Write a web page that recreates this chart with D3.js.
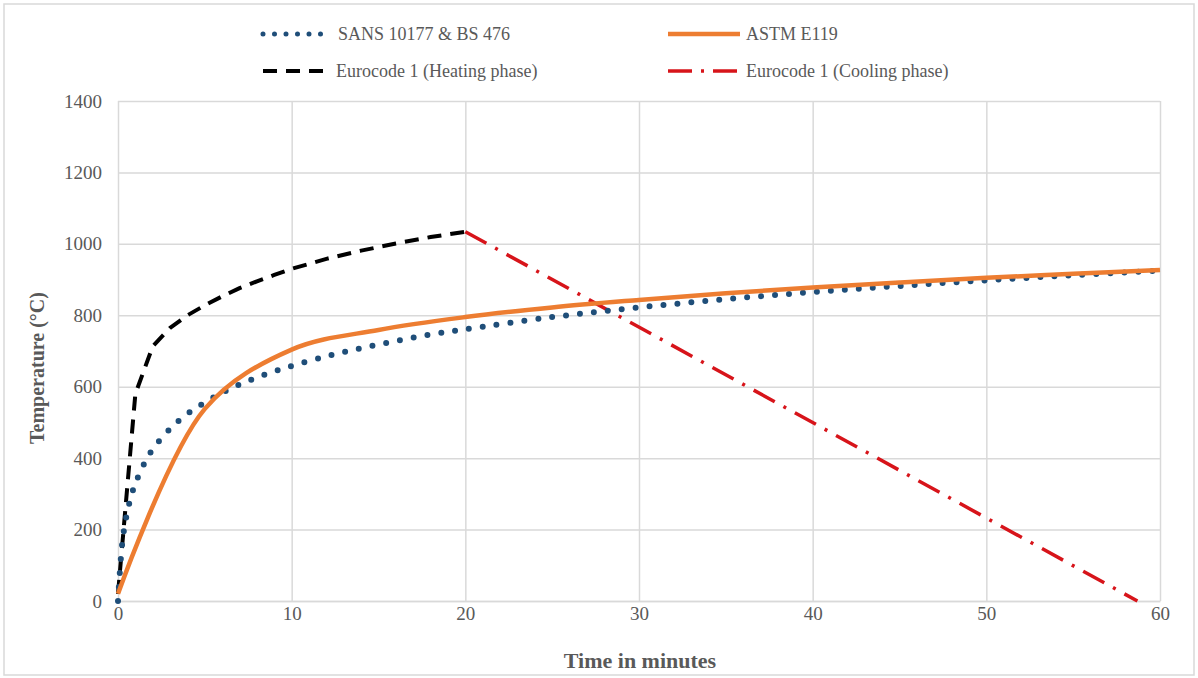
<!DOCTYPE html>
<html>
<head>
<meta charset="utf-8">
<script src="https://cdn.jsdelivr.net/npm/d3@7"></script>
<style>
  body { margin: 0; background: #fff; }
  svg text { font-family: 'Liberation Serif', 'DejaVu Serif', serif !important; fill: #595959; }
</style>
</head>
<body>
<div id="fireCurves"></div>
<script>
// Series (time in minutes, temperature in degC)
const sansTime = [0, 0.25, 0.5, 0.75, 1, 1.5, 2, 3, 4, 5, 6, 7, 8, 9, 10, 12, 14, 16, 18, 20, 25, 30, 35, 40, 45, 50, 55, 60];
const sansTemp = [0, 165, 241, 292, 329, 384, 425, 482, 524, 556, 583, 606, 626, 643, 658, 685, 708, 728, 746, 761, 795, 822, 845, 865, 882, 898, 912, 925];

const astmTime = [0, 5, 10, 15, 20, 25, 30, 35, 40, 45, 50, 55, 60];
const astmTemp = [20, 538, 704, 759, 795, 822, 843, 862, 878, 892, 905, 916, 927];

const heatTime = [0, 1, 2, 3, 4, 5, 6, 7, 8, 9, 10, 12, 14, 16, 18, 20];
const heatTemp = [20, 580, 713, 765, 800, 828, 853, 876, 895, 913, 930, 958, 981, 1001, 1019, 1034];

const coolTime = [20, 58.7];
const coolTemp = [1034, 0];

const xTicks = [0, 10, 20, 30, 40, 50, 60];
const yTicks = [0, 200, 400, 600, 800, 1000, 1200, 1400];

const seriesNames = ['SANS 10177 & BS 476', 'ASTM E119', 'Eurocode 1 (Heating phase)', 'Eurocode 1 (Cooling phase)'];

const W = 1198, H = 678;
const FONT = "'Liberation Serif', serif";
const margin = { top: 101, right: 38, bottom: 77, left: 118 },
  width = W - margin.left - margin.right,
  height = H - margin.top - margin.bottom;

const root = d3.select('#fireCurves').append('svg')
  .attr('width', W)
  .attr('height', H)
  .attr('font-family', FONT);

// outer frame
root.append('rect')
  .attr('x', 4).attr('y', 4)
  .attr('width', W - 8).attr('height', H - 7)
  .attr('fill', '#fff')
  .attr('stroke', '#d9d9d9')
  .attr('stroke-width', 1.5);

const svg = root.append('g')
  .attr('transform', 'translate(' + margin.left + ',' + margin.top + ')');

const x = d3.scaleLinear().domain([0, 60]).range([0, width]);
const y = d3.scaleLinear().domain([0, 1400]).range([height, 0]);

// gridlines
svg.append('g')
  .attr('class', 'grid')
  .call(d3.axisLeft(y).tickValues(yTicks).tickSize(-width).tickFormat(''))
  .call(g => g.select('.domain').remove());
svg.append('g')
  .attr('class', 'grid')
  .call(d3.axisBottom(x).tickValues(xTicks).tickSize(height).tickFormat(''))
  .call(g => g.select('.domain').remove());
svg.selectAll('.grid line').attr('stroke', '#d9d9d9').attr('stroke-width', 1.5);

// X axis labels
svg.append('g')
  .attr('transform', 'translate(0,' + height + ')')
  .call(d3.axisBottom(x).tickValues(xTicks).tickFormat(d3.format('d')).tickSize(0).tickPadding(6))
  .attr('font-family', FONT)
  .call(g => g.select('.domain').attr('stroke', '#d9d9d9').attr('stroke-width', 1.5))
  .selectAll('text')
  .attr('font-family', FONT)
  .style('font-size', '19px')
  .attr('fill', '#595959');

// Y axis labels
svg.append('g')
  .call(d3.axisLeft(y).tickValues(yTicks).tickFormat(d3.format('d')).tickSize(0).tickPadding(16))
  .attr('font-family', FONT)
  .call(g => g.select('.domain').remove())
  .selectAll('text')
  .attr('font-family', FONT)
  .style('font-size', '19px')
  .attr('fill', '#595959');

// axis titles
root.append('text')
  .attr('x', 640)
  .attr('y', 668)
  .attr('text-anchor', 'middle')
  .attr('font-family', FONT)
  .style('font-size', '22px')
  .style('font-weight', 'bold')
  .text('Time in minutes');

root.append('text')
  .attr('transform', 'translate(44,368) rotate(-90)')
  .attr('text-anchor', 'middle')
  .attr('font-family', FONT)
  .style('font-size', '20px')
  .style('font-weight', 'bold')
  .text('Temperature (°C)');

// series styles
const styles = [
  { color: '#1f4e79', width: 6, dash: '0 14', cap: 'round', legendDash: '0 11.5' },
  { color: '#ed7d31', width: 4.5, dash: null, cap: 'butt', legendDash: null },
  { color: '#000000', width: 4, dash: '14 9', cap: 'butt', legendDash: '14 9' },
  { color: '#d7141a', width: 3.5, dash: '24 10 3 10', cap: 'butt', legendDash: '24 9 3 9' },
];

const toPts = (ts, vs) => ts.map((t, i) => [t, vs[i]]);
const series = [
  { pts: toPts(sansTime, sansTemp), curve: d3.curveCatmullRom },
  { pts: toPts(astmTime, astmTemp), curve: d3.curveCatmullRom },
  { pts: toPts(heatTime, heatTemp), curve: d3.curveLinear },
  { pts: toPts(coolTime, coolTemp), curve: d3.curveLinear },
];

// draw order: cooling, heating, sans, astm
[3, 2, 0, 1].forEach(i => {
  const line = d3.line()
    .x(d => x(d[0]))
    .y(d => y(d[1]))
    .curve(series[i].curve);
  svg.append('path')
    .datum(series[i].pts)
    .attr('fill', 'none')
    .attr('stroke', styles[i].color)
    .attr('stroke-width', styles[i].width)
    .attr('stroke-linecap', styles[i].cap)
    .attr('stroke-linejoin', 'round')
    .attr('stroke-dasharray', styles[i].dash)
    .attr('d', line);
});

// Legend
const legendPos = [
  { x: 263, y: 34, len: 69 },
  { x: 668, y: 34, len: 72 },
  { x: 263, y: 71, len: 67 },
  { x: 668, y: 71, len: 72 },
];
const legend = root.append('g');
seriesNames.forEach((name, i) => {
  const p = legendPos[i];
  legend.append('line')
    .attr('x1', p.x).attr('x2', p.x + p.len)
    .attr('y1', p.y).attr('y2', p.y)
    .attr('stroke', styles[i].color)
    .attr('stroke-width', i === 0 ? 5 : styles[i].width)
    .attr('stroke-linecap', styles[i].cap)
    .attr('stroke-dasharray', styles[i].legendDash);
  legend.append('text')
    .attr('x', p.x + p.len + 6)
    .attr('y', p.y)
    .attr('dy', '0.35em')
    .attr('font-family', FONT)
    .style('font-size', '18px')
    .text(name);
});
</script>
</body>
</html>
